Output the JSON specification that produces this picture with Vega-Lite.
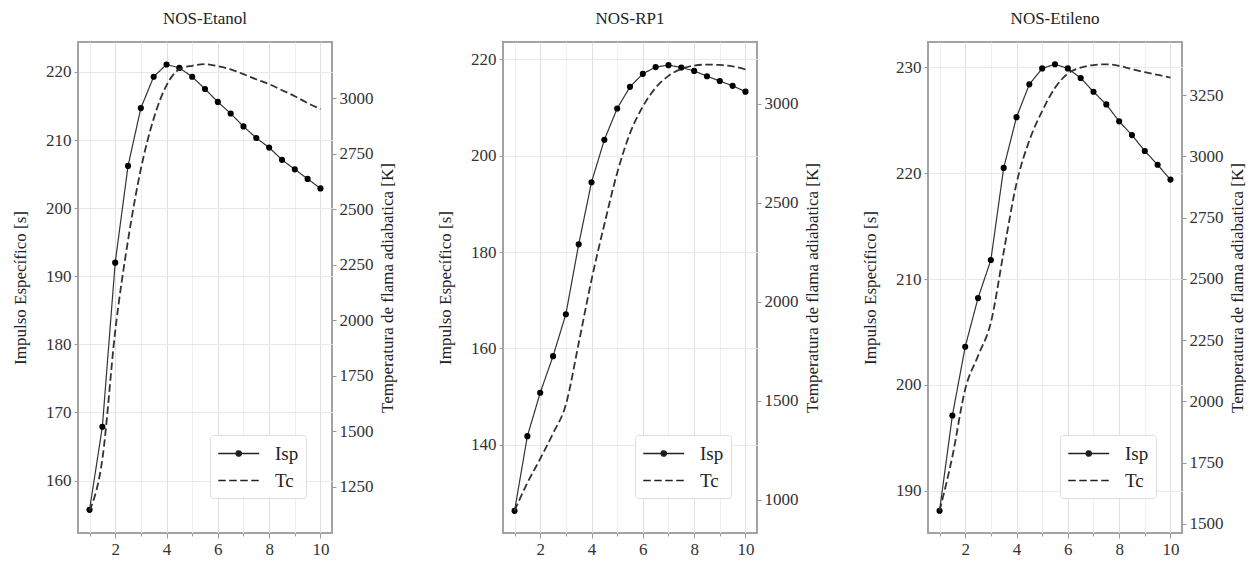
{
  "$schema": "https://vega.github.io/schema/vega-lite/v6.json",
  "padding": {"left": 10, "top": 9, "right": 0, "bottom": 0},
  "background": "white",
  "bounds": "flush",
  "spacing": 171,
  "config": {
    "font": "Liberation Serif",
    "view": {"stroke": "#a3a3a3", "strokeWidth": 2},
    "axis": {
      "labelFont": "Liberation Serif", "labelFontSize": 17, "labelColor": "#333",
      "titleFont": "Liberation Serif", "titleFontSize": 17, "titleFontWeight": "normal", "titleColor": "#222",
      "domain": false, "tickColor": "#999", "tickSize": 4, "labelPadding": 3,
      "gridColor": "#e8e8e8", "gridWidth": 1
    },
    "title": {"font": "Liberation Serif", "fontSize": 17, "fontWeight": "normal", "color": "#222", "offset": 14},
    "legend": {
      "orient": "none", "legendX": 132, "legendY": 393,
      "title": null, "fillColor": "white", "strokeColor": "#dddddd", "cornerRadius": 3,
      "padding": 7, "rowPadding": 5, "labelFont": "Liberation Serif", "labelFontSize": 19, "labelColor": "#222",
      "labelOffset": 35, "symbolSize": 420, "symbolStrokeWidth": 1.6, "symbolStrokeColor": "#222", "symbolType": "stroke"
    }
  },
  "datasets": {
    "etanol": [
      {"x": 1, "isp": 155.7, "tc": 1142}, {"x": 1.5, "isp": 167.9, "tc": 1375}, {"x": 2, "isp": 192.0, "tc": 1950},
      {"x": 2.5, "isp": 206.2, "tc": 2360}, {"x": 3, "isp": 214.7, "tc": 2681}, {"x": 3.5, "isp": 219.3, "tc": 2908},
      {"x": 4, "isp": 221.1, "tc": 3058}, {"x": 4.5, "isp": 220.6, "tc": 3130}, {"x": 5, "isp": 219.3, "tc": 3146},
      {"x": 5.5, "isp": 217.5, "tc": 3153}, {"x": 6, "isp": 215.6, "tc": 3144}, {"x": 6.5, "isp": 213.9, "tc": 3130},
      {"x": 7, "isp": 212.0, "tc": 3108}, {"x": 7.5, "isp": 210.3, "tc": 3085}, {"x": 8, "isp": 208.9, "tc": 3063},
      {"x": 8.5, "isp": 207.1, "tc": 3036}, {"x": 9, "isp": 205.7, "tc": 3009}, {"x": 9.5, "isp": 204.3, "tc": 2978},
      {"x": 10, "isp": 202.9, "tc": 2951}
    ],
    "rp1": [
      {"x": 1, "isp": 126.3, "tc": 945}, {"x": 1.5, "isp": 141.8, "tc": 1085}, {"x": 2, "isp": 150.8, "tc": 1207},
      {"x": 2.5, "isp": 158.4, "tc": 1335}, {"x": 3, "isp": 167.1, "tc": 1480}, {"x": 3.5, "isp": 181.6, "tc": 1790},
      {"x": 4, "isp": 194.5, "tc": 2110}, {"x": 4.5, "isp": 203.3, "tc": 2390}, {"x": 5, "isp": 209.8, "tc": 2650},
      {"x": 5.5, "isp": 214.3, "tc": 2850}, {"x": 6, "isp": 217.0, "tc": 2985}, {"x": 6.5, "isp": 218.4, "tc": 3080},
      {"x": 7, "isp": 218.8, "tc": 3140}, {"x": 7.5, "isp": 218.3, "tc": 3175}, {"x": 8, "isp": 217.6, "tc": 3192},
      {"x": 8.5, "isp": 216.5, "tc": 3197}, {"x": 9, "isp": 215.5, "tc": 3195}, {"x": 9.5, "isp": 214.5, "tc": 3188},
      {"x": 10, "isp": 213.3, "tc": 3173}
    ],
    "etileno": [
      {"x": 1, "isp": 188.1, "tc": 1554}, {"x": 1.5, "isp": 197.1, "tc": 1775}, {"x": 2, "isp": 203.6, "tc": 2050},
      {"x": 2.5, "isp": 208.2, "tc": 2186}, {"x": 3, "isp": 211.8, "tc": 2322}, {"x": 3.5, "isp": 220.5, "tc": 2610},
      {"x": 4, "isp": 225.3, "tc": 2890}, {"x": 4.5, "isp": 228.4, "tc": 3065}, {"x": 5, "isp": 229.9, "tc": 3185},
      {"x": 5.5, "isp": 230.3, "tc": 3280}, {"x": 6, "isp": 229.9, "tc": 3338}, {"x": 6.5, "isp": 229.0, "tc": 3362},
      {"x": 7, "isp": 227.7, "tc": 3373}, {"x": 7.5, "isp": 226.5, "tc": 3376}, {"x": 8, "isp": 224.9, "tc": 3370},
      {"x": 8.5, "isp": 223.6, "tc": 3356}, {"x": 9, "isp": 222.1, "tc": 3344}, {"x": 9.5, "isp": 220.8, "tc": 3333},
      {"x": 10, "isp": 219.4, "tc": 3322}
    ]
  },
  "resolve": {"scale": {"strokeDash": "independent", "x": "independent", "y": "independent"}, "legend": {"strokeDash": "independent"}},
  "hconcat": [
    {
      "width": 254, "height": 491, "title": "NOS-Etanol",
      "data": {"name": "etanol"},
      "encoding": {
        "x": {"field": "x", "type": "quantitative", "scale": {"domain": [0.55, 10.45], "nice": false, "zero": false},
          "axis": {"title": null, "format": "d", "values": [1,1.5,2,2.5,3,3.5,4,4.5,5,5.5,6,6.5,7,7.5,8,8.5,9,9.5,10],
            "labelExpr": "datum.value % 2 === 0 ? format(datum.value, 'd') : ''", "labelOverlap": false, "grid": true,
            "gridColor": {"condition": {"test": "datum.value % 2 === 0", "value": "#e0e0e0"}, "value": "#efefef"},
            "tickSize": {"condition": {"test": "datum.value % 2 === 0", "value": 5}, "value": 3}}}
      },
      "layer": [
        {
          "mark": {"type": "line", "color": "#333", "strokeWidth": 1.2, "point": {"filled": true, "size": 38, "color": "black"}},
          "encoding": {
            "y": {"field": "isp", "type": "quantitative", "scale": {"domain": [152.3, 224.4], "nice": false, "zero": false},
              "axis": {"title": "Impulso Específico [s]", "values": [160,170,180,190,200,210,220], "grid": true, "titlePadding": 16}},
            "strokeDash": {"datum": "Isp", "type": "nominal", "scale": {"domain": ["Isp", "Tc"], "range": [[1, 0], [7.5, 3.5]]},
              "legend": {"encode": {"symbols": {"update": {
                "shape": {"signal": "datum.value === 'Isp' ? 'M-1,0H3M0.75,0A0.25,0.25,0,1,1,1.25,0A0.25,0.25,0,1,1,0.75,0' : 'M-1,0H3'"},
                "fill": {"signal": "datum.value === 'Isp' ? '#111' : 'transparent'"},
                "stroke": {"value": "#222"},
                "strokeWidth": {"value": 1.6},
                "strokeDash": {"signal": "datum.value === 'Isp' ? [1, 0] : [7.5, 3.5]"},
                "opacity": {"value": 1}}}}}}
          }
        },
        {
          "mark": {"type": "line", "color": "#333", "strokeWidth": 1.8, "interpolate": "monotone"},
          "encoding": {
            "y": {"field": "tc", "type": "quantitative", "scale": {"domain": [1042, 3253], "nice": false, "zero": false},
              "axis": {"orient": "right", "format": "d", "title": "Temperatura de flama adiabatica [K]", "values": [1250,1500,1750,2000,2250,2500,2750,3000],
                "grid": false, "titleAngle": 270, "titleBaseline": "top", "titlePadding": 6}},
            "strokeDash": {"datum": "Tc", "type": "nominal"}
          }
        }
      ],
      "resolve": {"scale": {"y": "independent"}}
    },
    {
      "width": 254, "height": 491, "title": "NOS-RP1",
      "data": {"name": "rp1"},
      "encoding": {
        "x": {"field": "x", "type": "quantitative", "scale": {"domain": [0.55, 10.45], "nice": false, "zero": false},
          "axis": {"title": null, "format": "d", "values": [1,1.5,2,2.5,3,3.5,4,4.5,5,5.5,6,6.5,7,7.5,8,8.5,9,9.5,10],
            "labelExpr": "datum.value % 2 === 0 ? format(datum.value, 'd') : ''", "labelOverlap": false, "grid": true,
            "gridColor": {"condition": {"test": "datum.value % 2 === 0", "value": "#e0e0e0"}, "value": "#efefef"},
            "tickSize": {"condition": {"test": "datum.value % 2 === 0", "value": 5}, "value": 3}}}
      },
      "layer": [
        {
          "mark": {"type": "line", "color": "#333", "strokeWidth": 1.2, "point": {"filled": true, "size": 38, "color": "black"}},
          "encoding": {
            "y": {"field": "isp", "type": "quantitative", "scale": {"domain": [121.7, 223.6], "nice": false, "zero": false},
              "axis": {"title": "Impulso Específico [s]", "values": [140,160,180,200,220], "grid": true, "titlePadding": 16}},
            "strokeDash": {"datum": "Isp", "type": "nominal", "scale": {"domain": ["Isp", "Tc"], "range": [[1, 0], [7.5, 3.5]]},
              "legend": {"encode": {"symbols": {"update": {
                "shape": {"signal": "datum.value === 'Isp' ? 'M-1,0H3M0.75,0A0.25,0.25,0,1,1,1.25,0A0.25,0.25,0,1,1,0.75,0' : 'M-1,0H3'"},
                "fill": {"signal": "datum.value === 'Isp' ? '#111' : 'transparent'"},
                "stroke": {"value": "#222"},
                "strokeWidth": {"value": 1.6},
                "strokeDash": {"signal": "datum.value === 'Isp' ? [1, 0] : [7.5, 3.5]"},
                "opacity": {"value": 1}}}}}}
          }
        },
        {
          "mark": {"type": "line", "color": "#333", "strokeWidth": 1.8, "interpolate": "monotone"},
          "encoding": {
            "y": {"field": "tc", "type": "quantitative", "scale": {"domain": [832, 3311], "nice": false, "zero": false},
              "axis": {"orient": "right", "format": "d", "title": "Temperatura de flama adiabatica [K]", "values": [1000,1500,2000,2500,3000],
                "grid": false, "titleAngle": 270, "titleBaseline": "top", "titlePadding": 6}},
            "strokeDash": {"datum": "Tc", "type": "nominal"}
          }
        }
      ],
      "resolve": {"scale": {"y": "independent"}}
    },
    {
      "width": 254, "height": 491, "title": "NOS-Etileno",
      "data": {"name": "etileno"},
      "encoding": {
        "x": {"field": "x", "type": "quantitative", "scale": {"domain": [0.55, 10.45], "nice": false, "zero": false},
          "axis": {"title": null, "format": "d", "values": [1,1.5,2,2.5,3,3.5,4,4.5,5,5.5,6,6.5,7,7.5,8,8.5,9,9.5,10],
            "labelExpr": "datum.value % 2 === 0 ? format(datum.value, 'd') : ''", "labelOverlap": false, "grid": true,
            "gridColor": {"condition": {"test": "datum.value % 2 === 0", "value": "#e0e0e0"}, "value": "#efefef"},
            "tickSize": {"condition": {"test": "datum.value % 2 === 0", "value": 5}, "value": 3}}}
      },
      "layer": [
        {
          "mark": {"type": "line", "color": "#333", "strokeWidth": 1.2, "point": {"filled": true, "size": 38, "color": "black"}},
          "encoding": {
            "y": {"field": "isp", "type": "quantitative", "scale": {"domain": [186.0, 232.4], "nice": false, "zero": false},
              "axis": {"title": "Impulso Específico [s]", "values": [190,200,210,220,230], "grid": true, "titlePadding": 16}},
            "strokeDash": {"datum": "Isp", "type": "nominal", "scale": {"domain": ["Isp", "Tc"], "range": [[1, 0], [7.5, 3.5]]},
              "legend": {"encode": {"symbols": {"update": {
                "shape": {"signal": "datum.value === 'Isp' ? 'M-1,0H3M0.75,0A0.25,0.25,0,1,1,1.25,0A0.25,0.25,0,1,1,0.75,0' : 'M-1,0H3'"},
                "fill": {"signal": "datum.value === 'Isp' ? '#111' : 'transparent'"},
                "stroke": {"value": "#222"},
                "strokeWidth": {"value": 1.6},
                "strokeDash": {"signal": "datum.value === 'Isp' ? [1, 0] : [7.5, 3.5]"},
                "opacity": {"value": 1}}}}}}
          }
        },
        {
          "mark": {"type": "line", "color": "#333", "strokeWidth": 1.8, "interpolate": "monotone"},
          "encoding": {
            "y": {"field": "tc", "type": "quantitative", "scale": {"domain": [1463, 3467], "nice": false, "zero": false},
              "axis": {"orient": "right", "format": "d", "title": "Temperatura de flama adiabatica [K]", "values": [1500,1750,2000,2250,2500,2750,3000,3250],
                "grid": false, "titleAngle": 270, "titleBaseline": "top", "titlePadding": 6}},
            "strokeDash": {"datum": "Tc", "type": "nominal"}
          }
        }
      ],
      "resolve": {"scale": {"y": "independent"}}
    }
  ]
}
